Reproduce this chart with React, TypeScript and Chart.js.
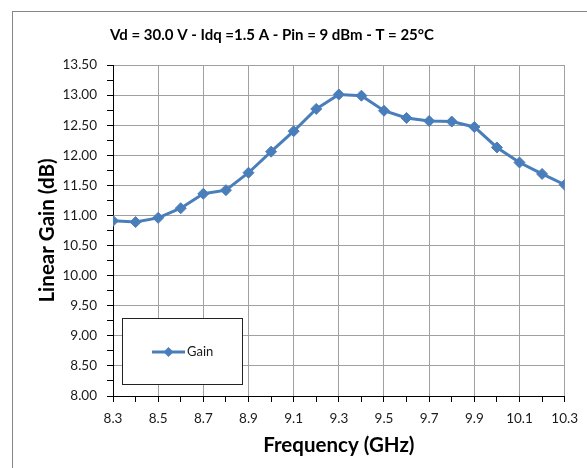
import React, { useEffect, useRef } from "react";
import { Chart, registerables } from "chart.js";

Chart.register(...registerables);

const freqs = [8.3, 8.4, 8.5, 8.6, 8.7, 8.8, 8.9, 9.0, 9.1, 9.2, 9.3, 9.4, 9.5, 9.6, 9.7, 9.8, 9.9, 10.0, 10.1, 10.2, 10.3];
const gain = [10.91, 10.89, 10.96, 11.12, 11.36, 11.42, 11.71, 12.06, 12.40, 12.77, 13.01, 12.99, 12.74, 12.62, 12.57, 12.56, 12.47, 12.13, 11.88, 11.69, 11.51];
const seriesName = "Gain";
const chartTitle = "Vd = 30.0 V - Idq =1.5 A - Pin = 9 dBm - T = 25°C";
const xTitle = "Frequency (GHz)";
const yTitle = "Linear Gain (dB)";
const xMin = 8.3, xMax = 10.3, xStep = 0.1;
const yMin = 8, yMax = 13.5, yStep = 0.25;

const BLUE = "#4a7ebb";
const GRID = "#a0a0a0";
const FONT = "Lato, 'Open Sans', sans-serif";

const isMajorX = (v: number) => Math.round((v - xMin) / xStep) % 2 === 0;
const isMajorY = (v: number) => Math.abs(v * 2 - Math.round(v * 2)) < 1e-6;

export default function App() {
  const ref = useRef<HTMLCanvasElement>(null);
  useEffect(() => {
    if (!ref.current) return;
    const decor = {
      id: "decor",
      beforeDraw(chart: any) {
        const c = chart.ctx;
        c.save();
        c.fillStyle = "#fff";
        c.fillRect(0, 0, chart.width, chart.height);
        c.strokeStyle = "#868686";
        c.lineWidth = 1;
        c.strokeRect(12.5, 11.5, 1000, 1000);
        c.fillStyle = "#000";
        c.font = `bold 15px ${FONT}`;
        c.textAlign = "center";
        c.textBaseline = "middle";
        c.fillText(chartTitle, 272, 35);
        c.restore();
      },
      afterDraw(chart: any) {
        const c = chart.ctx;
        c.save();
        c.fillStyle = "#fff";
        c.fillRect(122.5, 318.5, 120, 66);
        c.strokeStyle = "#222";
        c.lineWidth = 1;
        c.strokeRect(122.5, 318.5, 120, 66);
        c.strokeStyle = BLUE;
        c.lineWidth = 3;
        c.beginPath();
        c.moveTo(152, 352);
        c.lineTo(185, 352);
        c.stroke();
        c.fillStyle = BLUE;
        c.beginPath();
        c.moveTo(168.5 - 5, 352);
        c.lineTo(168.5, 347);
        c.lineTo(168.5 + 5, 352);
        c.lineTo(168.5, 357);
        c.closePath();
        c.fill();
        c.fillStyle = "#1a1a1a";
        c.font = `13px ${FONT}`;
        c.textAlign = "left";
        c.textBaseline = "middle";
        c.fillText(seriesName, 187, 352);
        c.restore();
      },
    };
    const chart = new Chart(ref.current, {
      type: "line",
      data: {
        datasets: [
          {
            label: seriesName,
            data: freqs.map((f, i) => ({ x: f, y: gain[i] })),
            borderColor: BLUE,
            backgroundColor: BLUE,
            borderWidth: 3,
            pointStyle: "rectRot",
            pointRadius: 5.5,
            pointBorderWidth: 1,
            tension: 0,
          },
        ],
      },
      options: {
        animation: false,
        responsive: false,
        layout: { padding: { left: 0, top: 65, right: 19, bottom: 0 } },
        plugins: { legend: { display: false }, title: { display: false }, tooltip: { enabled: false } },
        scales: {
          x: {
            type: "linear",
            min: xMin,
            max: xMax,
            afterFit: (s: any) => { s.height = 72; },
            border: { color: "#000", width: 1 },
            grid: {
              color: (ctx: any) => (ctx.tick && isMajorX(ctx.tick.value) ? GRID : "rgba(0,0,0,0)"),
              tickColor: "#000",
              tickLength: 6,
              lineWidth: 1,
            },
            ticks: {
              stepSize: xStep,
              autoSkip: false,
              maxRotation: 0,
              padding: 9,
              color: "#1a1a1a",
              font: { family: FONT, size: 13.5 },
              callback: (v: any) => (isMajorX(Number(v)) ? Number(v).toFixed(1) : ""),
            },
            title: {
              display: true,
              text: xTitle,
              color: "#000",
              font: { family: FONT, size: 20.5, weight: "bold" },
              padding: { top: 0, bottom: 10 },
            },
          },
          y: {
            type: "linear",
            min: yMin,
            max: yMax,
            afterFit: (s: any) => { s.width = 113; },
            border: { color: "#000", width: 1 },
            grid: {
              color: (ctx: any) => (ctx.tick && isMajorY(ctx.tick.value) ? GRID : "rgba(0,0,0,0)"),
              tickColor: "#000",
              tickLength: 6,
              lineWidth: 1,
            },
            ticks: {
              stepSize: yStep,
              autoSkip: false,
              padding: 10,
              color: "#1a1a1a",
              font: { family: FONT, size: 13.5 },
              callback: (v: any) => (isMajorY(Number(v)) ? Number(v).toFixed(2) : ""),
            },
            title: {
              display: true,
              text: yTitle,
              color: "#000",
              font: { family: FONT, size: 20.5, weight: "bold" },
              padding: { top: 35, bottom: 0 },
            },
          },
        },
      },
      plugins: [decor],
    });
    return () => chart.destroy();
  }, []);
  return (
    <div style={{ position: "fixed", left: 0, top: 0, width: 587, height: 468, background: "#fff" }}>
      <canvas ref={ref} width={587} height={468} style={{ width: 587, height: 468, display: "block" }} />
    </div>
  );
}
